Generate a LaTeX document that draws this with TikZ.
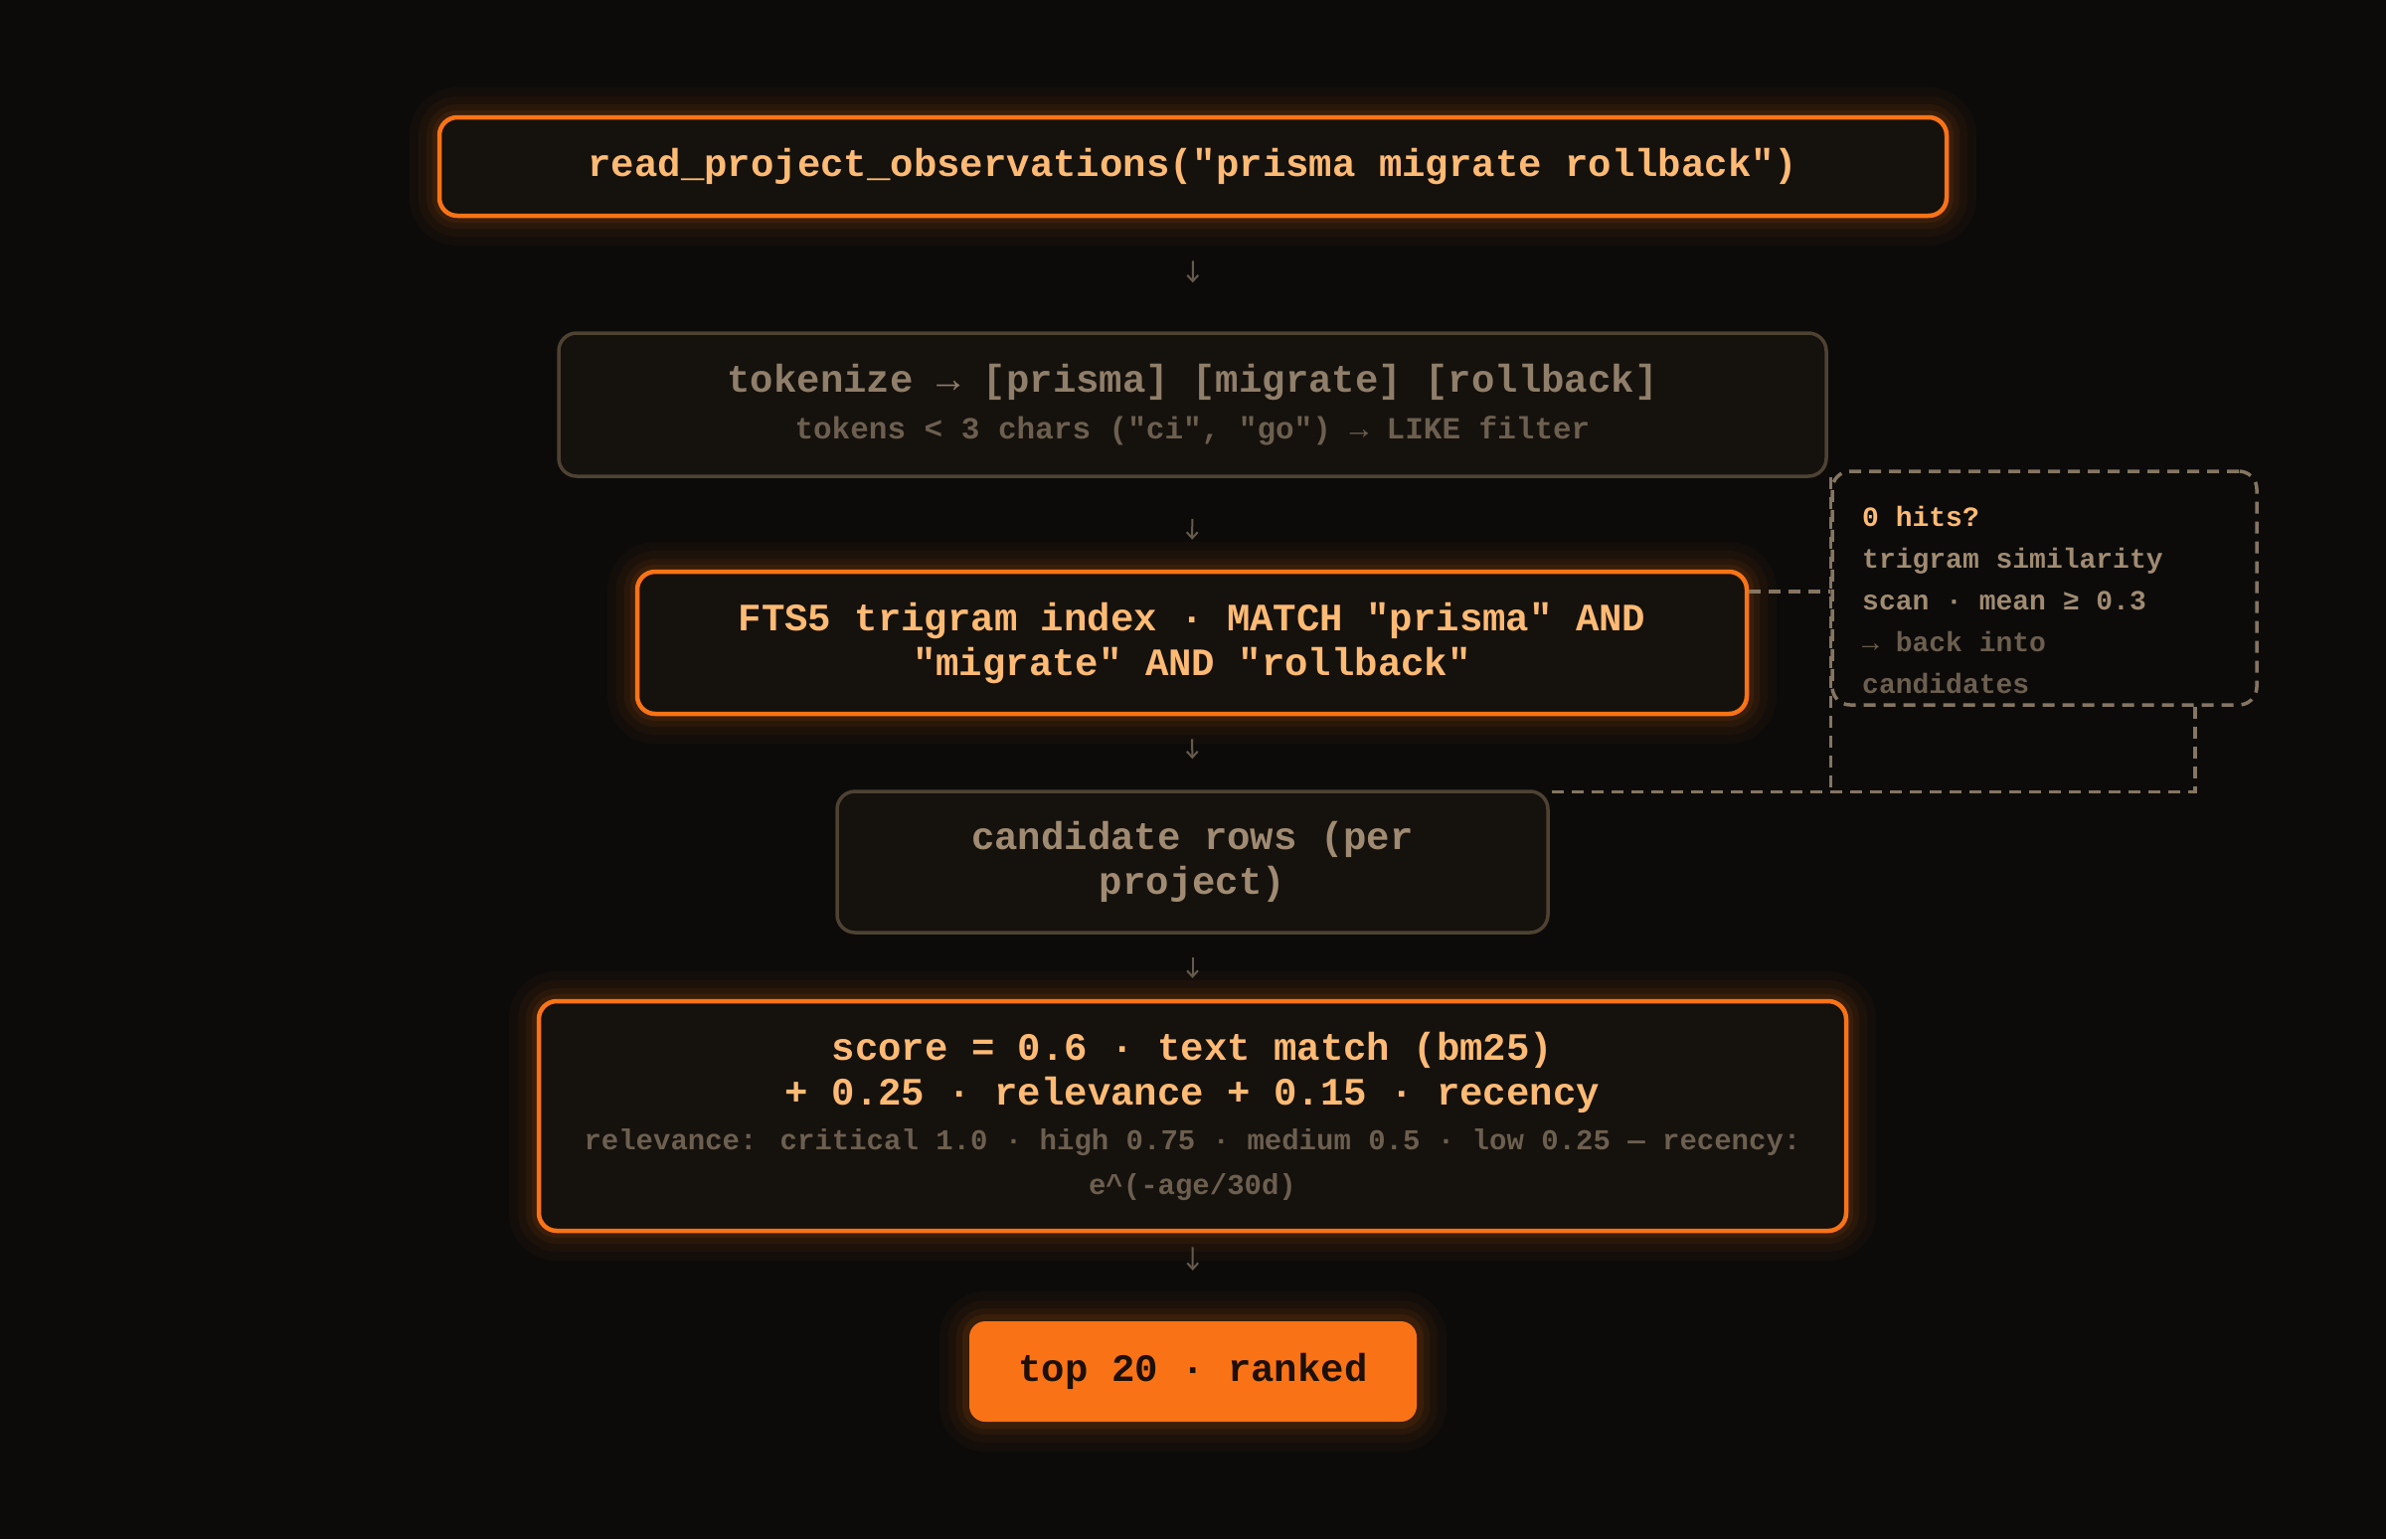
\documentclass[tikz,border=0pt]{standalone}
\usepackage{fontspec}
\newfontfamily\mono{Liberation Mono}
\usetikzlibrary{arrows.meta,calc}
\definecolor{bg}{HTML}{0C0B0A}
\definecolor{boxfill}{HTML}{15110D}
\definecolor{orangeC}{HTML}{F97316}
\definecolor{orangeT}{HTML}{FDBA74}
\definecolor{greyB}{HTML}{4E4233}
\definecolor{tanT}{HTML}{A08B72}
\definecolor{tanD}{HTML}{8F7E69}
\definecolor{subT}{HTML}{6C5F4F}
\definecolor{dashC}{HTML}{857561}
\definecolor{arrowC}{HTML}{655A4C}
\definecolor{darkT}{HTML}{1C1008}
\begin{document}
\begin{tikzpicture}[x=1pt,y=-1pt,
  glow/.style={
    preaction={draw=orangeC,line width=60pt,opacity=0.035},
    preaction={draw=orangeC,line width=42pt,opacity=0.045},
    preaction={draw=orangeC,line width=26pt,opacity=0.06},
    preaction={draw=orangeC,line width=14pt,opacity=0.08}},
  basebox/.style={rounded corners=18pt, fill=boxfill, align=center, inner sep=0pt,
    font=\mono\bfseries\fontsize{39pt}{45pt}\selectfont},
  orangebox/.style={basebox, glow, draw=orangeC, line width=4.5pt, text=orangeT},
  greybox/.style={basebox, draw=greyB, line width=3.5pt, text=tanT},
  finalbox/.style={basebox, glow, draw=none, fill=orangeC, text=darkT, rounded corners=16pt},
  sidebox/.style={rounded corners=18pt, draw=dashC, line width=3.5pt, dash pattern=on 12pt off 8pt, inner sep=0pt},
  dashline/.style={draw=dashC, line width=3.5pt, dash pattern=on 12pt off 8pt},
  flowarrow/.style={draw=arrowC, line width=2pt, -{Straight Barb[length=6pt,width=11pt,line width=2pt]}}
]
\useasboundingbox (0,0) rectangle (2400,1548);
\fill[bg] (0,0) rectangle (2400,1548);

\node[orangebox, minimum width=1516pt, minimum height=99pt] (b1) at (1200,167.5)
  {read\_project\_observations("prisma migrate rollback")};

\node[greybox, minimum width=1275pt, minimum height=144pt] (b2) at (1199.5,407)
  {{\color{tanD}tokenize → [prisma] [migrate] [rollback]}\\[2pt]
   {\color{subT}\fontsize{31pt}{45pt}\selectfont tokens < 3 chars ("ci", "go") → LIKE filter}};

\node[orangebox, minimum width=1116pt, minimum height=143pt] (b3) at (1199,646.5)
  {FTS5 trigram index · MATCH "prisma" AND\\ "migrate" AND "rollback"};

\node[greybox, minimum width=715pt, minimum height=142pt] (b4) at (1199.5,867)
  {candidate rows (per\\ project)};

\node[orangebox, minimum width=1315pt, minimum height=231pt] (b5) at (1199.5,1122.5)
  {score = 0.6 · text match (bm25)\\
   + 0.25 · relevance + 0.15 · recency\\
   {\color{subT}\fontsize{29pt}{45pt}\selectfont relevance: critical 1.0 · high 0.75 · medium 0.5 · low 0.25 — recency:}\\
   {\color{subT}\fontsize{29pt}{45pt}\selectfont e\textasciicircum(-age/30d)}};

\node[finalbox, minimum width=450pt, minimum height=101pt] (b6) at (1200,1379.5)
  {top 20 · ranked};

\node[sidebox, minimum width=427pt, minimum height=235pt] (side) at (2056.5,591.5) {};
\node[anchor=north west, inner sep=0pt, align=left,
      font=\mono\bfseries\fontsize{28pt}{42pt}\selectfont] (sidetxt) at (1873,509)
  {{\color{orangeT}0 hits?}\\
   {\color{tanT}trigram similarity}\\
   {\color{tanT}scan · mean ≥ 0.3}\\
   {\color{subT}→ back into}\\
   {\color{subT}candidates}};

% main flow arrows
\draw[flowarrow, shorten <=43pt, shorten >=49pt] (b1.south) -- (b2.north);
\draw[flowarrow, shorten <=41pt, shorten >=30pt] (b2.south) -- (b3.north);
\draw[flowarrow, shorten <=23pt, shorten >=31pt] (b3.south) -- (b4.north);
\draw[flowarrow, shorten <=23pt, shorten >=21pt] (b4.south) -- (b5.north);
\draw[flowarrow, shorten <=14pt, shorten >=51pt] (b5.south) -- (b6.north);

% fallback connectors
\coordinate (fa) at ($(b3.north east)+(0,22)$);
\draw[dashline] (fa) -- (fa -| side.west);
\coordinate (lb) at ($(side.south east)+(-64,0)$);
\coordinate (cn) at ($(b4.north east)+(0,2)$);
\draw[dashline] (lb) |- (cn);
\draw[dashline] ($(side.north west)+(0,8)$) -- (side.west |- cn);
\end{tikzpicture}
\end{document}
